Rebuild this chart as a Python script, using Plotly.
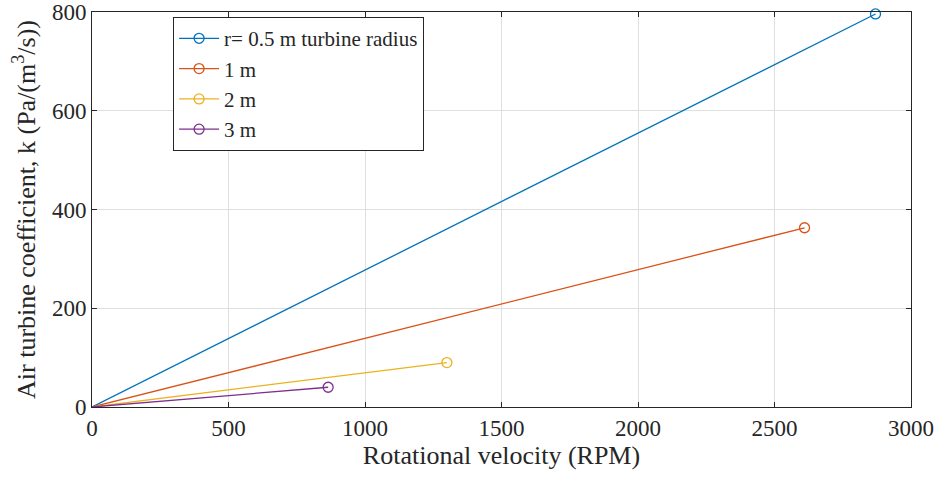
import plotly.graph_objects as go

names = ["r= 0.5 m turbine radius", "1 m", "2 m", "3 m"]
rpm_end = [2870, 2610, 1300, 865]
k_end = [796, 363, 90, 40]
colors = ["#0072BD", "#D95319", "#EDB120", "#7E2F8E"]

FONT = "Times New Roman, Liberation Serif, serif"

fig = go.Figure()
for n, xe, ye, c in zip(names, rpm_end, k_end, colors):
    fig.add_trace(go.Scatter(x=[0, xe], y=[0, ye], mode="lines",
                             line=dict(color=c, width=1.3), showlegend=False, hoverinfo="skip"))
    fig.add_trace(go.Scatter(x=[xe], y=[ye], mode="lines+markers", name=n,
                             line=dict(color=c, width=1.3),
                             marker=dict(symbol="circle-open", size=10, color=c, line=dict(width=1.3)),
                             cliponaxis=False))

axis_common = dict(showgrid=True, gridcolor="#DFDFDF", gridwidth=1, zeroline=False,
                   showline=True, linecolor="#262626", linewidth=1, mirror="ticks",
                   ticks="inside", ticklen=5, tickcolor="#262626", automargin=False,
                   tickfont=dict(family=FONT, size=23, color="#262626"))

fig.update_layout(
    width=940, height=481,
    margin=dict(l=92, r=29, t=12, b=74),
    plot_bgcolor="white", paper_bgcolor="white",
    font=dict(family=FONT, size=22, color="#262626"),
    xaxis=dict(range=[0, 3000], tickvals=[0, 500, 1000, 1500, 2000, 2500, 3000],
               title=dict(text="Rotational velocity (RPM)", standoff=6,
                          font=dict(family=FONT, size=26, color="#262626")),
               **axis_common),
    yaxis=dict(range=[0, 800], tickvals=[0, 200, 400, 600, 800],
               title=dict(text="Air turbine coefficient, k (Pa/(m<sup>3</sup>/s))", standoff=8,
                          font=dict(family=FONT, size=26, color="#262626")),
               **axis_common),
    legend=dict(x=0.099, y=0.987, xanchor="left", yanchor="top",
                bordercolor="#262626", borderwidth=1, bgcolor="white",
                font=dict(family=FONT, size=21, color="#262626"),
                tracegroupgap=0, itemwidth=40),
)

fig.write_html("out.html")
